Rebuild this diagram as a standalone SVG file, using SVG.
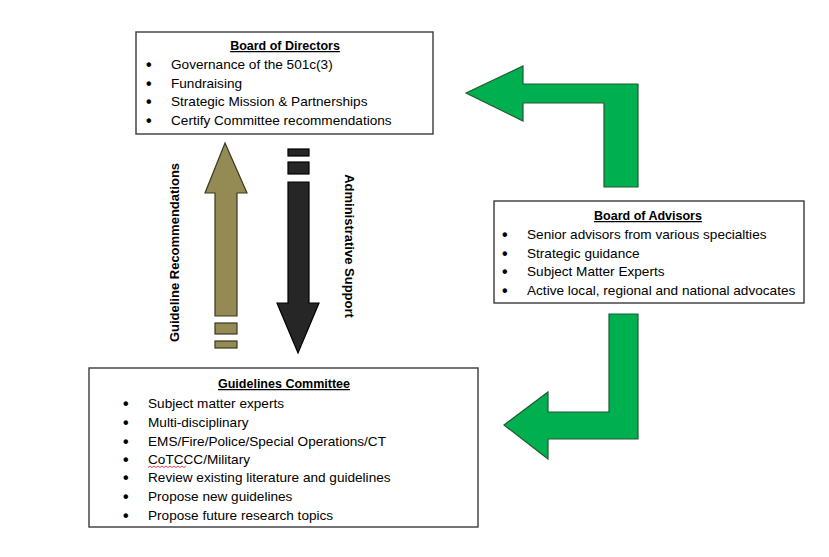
<svg xmlns="http://www.w3.org/2000/svg" width="829" height="557" viewBox="0 0 829 557">
  <style>
    .box { fill: #ffffff; stroke: #3a3a3a; stroke-width: 1.4; }
    .title { font-family: "Liberation Sans", Arial, sans-serif; font-size: 12.5px; font-weight: bold; fill: #000; text-decoration: underline; }
    .item { font-family: "Liberation Sans", Arial, sans-serif; font-size: 13.6px; fill: #000; }
    .bullet { font-family: "Liberation Sans", Arial, sans-serif; font-size: 16px; font-weight: bold; fill: #000; }
    .green { fill: #00b050; stroke: #1f5a2e; stroke-width: 1.2; stroke-linejoin: miter; }
    .olive { fill: #948a54; stroke: #3d3820; stroke-width: 1.2; }
    .dark { fill: #262626; stroke: #000; stroke-width: 1.2; }
    .vlabel { font-family: "Liberation Sans", Arial, sans-serif; font-size: 13px; font-weight: bold; fill: #000; }
  </style>
  <rect width="829" height="557" fill="#ffffff"/>

  <g id="connectors">
    <g id="arrow-advisors-to-directors">
      <polygon class="green" points="466,93 523,66 523,84 638,84 638,187 604,187 604,103 523,103 523,121"/>
    </g>
    <g id="arrow-advisors-to-committee">
      <polygon class="green" points="504,425 548,392 548,412 609,412 609,314 638,314 638,439 548,439 548,459"/>
    </g>
    <g id="arrow-guideline-recommendations">
      <polygon class="olive" points="225,143 247,193 237,193 237,316 215,316 215,193 205,193"/>
      <rect class="olive" x="215" y="323" width="22" height="11"/>
      <rect class="olive" x="215" y="341" width="22" height="7"/>
      <text class="vlabel" transform="translate(179,252.5) rotate(-90)" text-anchor="middle">Guideline Recommendations</text>
    </g>
    <g id="arrow-administrative-support">
      <rect class="dark" x="288" y="149" width="21" height="7"/>
      <rect class="dark" x="288" y="162" width="21" height="12"/>
      <polygon class="dark" points="288,182 309,182 309,303 319,303 298,353 277,303 288,303"/>
      <text class="vlabel" transform="translate(345,246) rotate(90)" text-anchor="middle">Administrative Support</text>
    </g>
  </g>

  <g id="board-of-directors">
    <rect class="box" x="136" y="32" width="297" height="102"/>
    <text class="title" x="285" y="50" text-anchor="middle">Board of Directors</text>
    <text class="bullet" x="146" y="70">•</text>
    <text class="item" x="171" y="69">Governance of the 501c(3)</text>
    <text class="bullet" x="146" y="89">•</text>
    <text class="item" x="171" y="88">Fundraising</text>
    <text class="bullet" x="146" y="107">•</text>
    <text class="item" x="171" y="106">Strategic Mission &amp; Partnerships</text>
    <text class="bullet" x="146" y="126">•</text>
    <text class="item" x="171" y="125">Certify Committee recommendations</text>
  </g>

  <g id="board-of-advisors">
    <rect class="box" x="494" y="201" width="310" height="102"/>
    <text class="title" x="648" y="220" text-anchor="middle">Board of Advisors</text>
    <text class="bullet" x="502" y="240">•</text>
    <text class="item" x="527" y="239">Senior advisors from various specialties</text>
    <text class="bullet" x="502" y="259">•</text>
    <text class="item" x="527" y="258">Strategic guidance</text>
    <text class="bullet" x="502" y="277">•</text>
    <text class="item" x="527" y="276">Subject Matter Experts</text>
    <text class="bullet" x="502" y="296">•</text>
    <text class="item" x="527" y="295">Active local, regional and national advocates</text>
  </g>

  <g id="guidelines-committee">
    <rect class="box" x="89" y="368" width="389" height="159"/>
    <text class="title" x="284" y="388" text-anchor="middle">Guidelines Committee</text>
    <text class="bullet" x="123" y="409">•</text>
    <text class="item" x="148" y="408">Subject matter experts</text>
    <text class="bullet" x="123" y="428">•</text>
    <text class="item" x="148" y="427">Multi-disciplinary</text>
    <text class="bullet" x="123" y="447">•</text>
    <text class="item" x="148" y="446">EMS/Fire/Police/Special Operations/CT</text>
    <text class="bullet" x="123" y="465">•</text>
    <text class="item" x="148" y="464">CoTCCC/Military</text>
    <path d="M148,467.5 l2,-1.5 l2,1.5 l2,-1.5 l2,1.5 l2,-1.5 l2,1.5 l2,-1.5 l2,1.5 l2,-1.5 l2,1.5 l2,-1.5 l2,1.5 l2,-1.5 l2,1.5 l2,-1.5 l2,1.5 l2,-1.5 l2,1.5 l2,-1.5" fill="none" stroke="#e02020" stroke-width="0.8"/>
    <text class="bullet" x="123" y="483">•</text>
    <text class="item" x="148" y="482">Review existing literature and guidelines</text>
    <text class="bullet" x="123" y="502">•</text>
    <text class="item" x="148" y="501">Propose new guidelines</text>
    <text class="bullet" x="123" y="521">•</text>
    <text class="item" x="148" y="520">Propose future research topics</text>
  </g>
</svg>
